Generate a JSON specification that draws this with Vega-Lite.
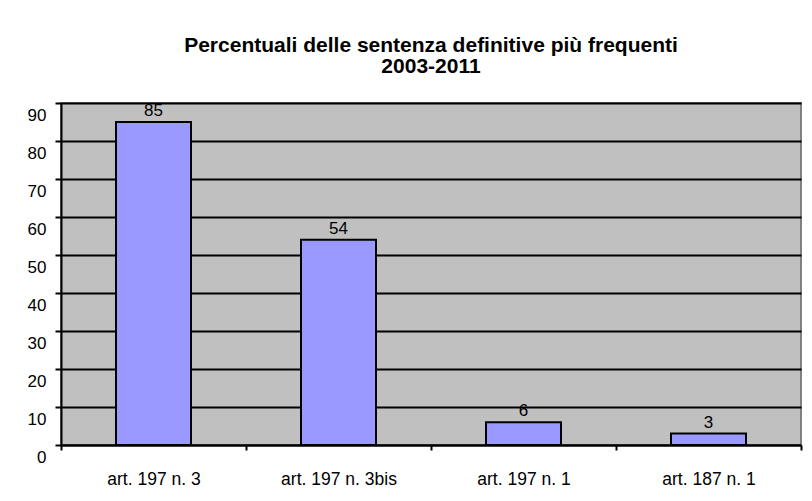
{
  "$schema": "https://vega.github.io/schema/vega-lite/v6.json",
  "width": 740,
  "height": 342,
  "autosize": {"type": "none"},
  "padding": {"left": 61, "top": 103, "right": 11, "bottom": 56},
  "background": "white",
  "title": {
    "text": ["Percentuali delle sentenza definitive più frequenti", "2003-2011"],
    "font": "Liberation Sans",
    "fontSize": 21,
    "fontWeight": "bold",
    "color": "black",
    "anchor": "middle",
    "offset": 25,
    "lineHeight": 21
  },
  "config": {
    "view": {"fill": "#c0c0c0", "stroke": "#808080", "strokeWidth": 2},
    "font": "Liberation Sans"
  },
  "data": {
    "values": [
      {"categoria": "art. 197 n. 3", "valore": 85},
      {"categoria": "art. 197 n. 3bis", "valore": 54},
      {"categoria": "art. 197 n. 1", "valore": 6},
      {"categoria": "art. 187 n. 1", "valore": 3}
    ]
  },
  "encoding": {
    "x": {
      "field": "categoria",
      "type": "nominal",
      "sort": null,
      "title": null,
      "scale": {"paddingInner": 0, "paddingOuter": 0},
      "axis": {
        "labelAngle": 0,
        "labelFont": "Liberation Sans",
        "labelFontSize": 17.5,
        "labelColor": "black",
        "labelPadding": 20,
        "tickBand": "extent",
        "tickColor": "black",
        "tickWidth": 2,
        "tickSize": 5,
        "domainColor": "black",
        "domainWidth": 2,
        "grid": false
      }
    },
    "y": {
      "field": "valore",
      "type": "quantitative",
      "title": null,
      "scale": {"domain": [0, 90], "nice": false},
      "axis": {
        "values": [0, 10, 20, 30, 40, 50, 60, 70, 80, 90],
        "labelFont": "Liberation Sans",
        "labelFontSize": 17,
        "labelColor": "black",
        "labelOffset": 12,
        "labelPadding": 9,
        "tickColor": "black",
        "tickWidth": 2,
        "tickSize": 6,
        "domainColor": "black",
        "domainWidth": 2,
        "grid": true,
        "gridColor": "black",
        "gridWidth": 2,
        "gridOpacity": 1
      }
    }
  },
  "layer": [
    {
      "mark": {"type": "bar", "width": 75, "fill": "#9999ff", "stroke": "black", "strokeWidth": 2}
    },
    {
      "mark": {"type": "text", "dy": -11, "fontSize": 17, "font": "Liberation Sans", "color": "black"},
      "encoding": {"text": {"field": "valore", "type": "quantitative"}}
    }
  ]
}
